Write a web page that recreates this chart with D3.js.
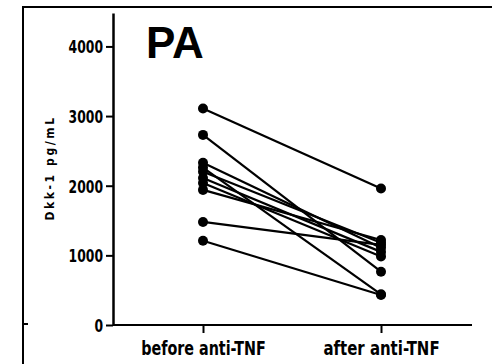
<!DOCTYPE html>
<html><head><meta charset="utf-8">
<script src="https://cdn.jsdelivr.net/npm/d3@7"></script>
<style>
html,body{margin:0;padding:0;background:#fff;}
svg{display:block;}
.narrow{font-family:"Liberation Sans Narrow","Arial Narrow","DejaVu Sans Condensed",sans-serif;font-weight:bold;}
</style></head>
<body>
<svg id="c" width="492" height="364"></svg>
<script>
const groups = ["before anti-TNF", "after anti-TNF"];
const beforeValues = [3110, 2730, 2330, 2260, 2200, 2110, 2040, 1940, 1480, 1210];
const afterValues  = [1960,  765, 1110,  440, 1180, 1050,  985, 1220, 1150,  430];
const yTicks = [0, 1000, 2000, 3000, 4000];
const title = "PA";
const yLabel = "Dkk-1 pg/mL";

const svg = d3.select("#c");
const x = d3.scalePoint().domain(groups).range([203, 381]);
const y = d3.scaleLinear().domain([0, 4480]).range([325, 13]);

// frame
svg.append("path").attr("d","M23,364 L23,7 L492,7").attr("fill","none").attr("stroke","#000").attr("stroke-width",2);
svg.append("line").attr("x1",23).attr("x2",28).attr("y1",324).attr("y2",324).attr("stroke","#000").attr("stroke-width",2);

// y axis
const ya = svg.append("g").attr("transform","translate(113,0)")
  .call(d3.axisLeft(y).tickValues(yTicks).tickSize(7).tickPadding(3).tickSizeOuter(0).tickFormat(d3.format("d")));
ya.select(".domain").attr("stroke-width",2.5);
ya.selectAll(".tick line").attr("stroke-width",2);
ya.selectAll(".tick text").attr("class","narrow").attr("font-size",18).attr("fill","#000").attr("dy","0.36em")
  .attr("textLength", d => String(d).length * 8.6).attr("lengthAdjust","spacingAndGlyphs");

// x axis
const xa = svg.append("g").attr("transform","translate(0,325)")
  .call(d3.axisBottom(x).tickSize(8).tickPadding(9).tickSizeOuter(0));
xa.select(".domain").attr("d","M113,0H472").attr("stroke-width",2);
xa.selectAll(".tick line").attr("stroke-width",2);
xa.selectAll(".tick text").attr("class","narrow").attr("font-size",19).attr("fill","#000").attr("dy","0.71em")
  .attr("textLength", d => d.length * 8.3).attr("lengthAdjust","spacingAndGlyphs");

// y label
svg.append("text").attr("class","narrow")
  .attr("transform","translate(54,168) rotate(-90)")
  .attr("text-anchor","middle").attr("font-size",12).attr("letter-spacing",2.6)
  .attr("fill","#000").text(yLabel);

// title
svg.append("text").attr("x",146).attr("y",58)
  .attr("font-family","Liberation Sans, Arial, sans-serif").attr("font-weight","bold")
  .attr("font-size",44).attr("fill","#000").text(title);

// lines
const pairs = beforeValues.map((b,i)=>({b, a: afterValues[i]}));
svg.append("g").selectAll("line").data(pairs).join("line")
  .attr("x1", x(groups[0])).attr("x2", x(groups[1]))
  .attr("y1", d=>y(d.b)).attr("y2", d=>y(d.a))
  .attr("stroke","#000").attr("stroke-width",2.2);

// dots
const pts = [];
pairs.forEach(d=>{pts.push({g:groups[0],v:d.b});pts.push({g:groups[1],v:d.a});});
svg.append("g").selectAll("circle").data(pts).join("circle")
  .attr("cx", d=>x(d.g)).attr("cy", d=>y(d.v)).attr("r",5).attr("fill","#000");
</script>
</body></html>
